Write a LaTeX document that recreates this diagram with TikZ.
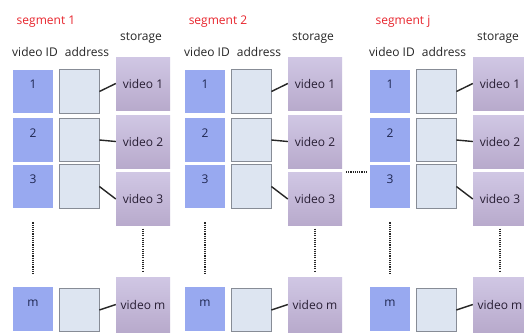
\documentclass[tikz,border=0pt]{standalone}
\usepackage{fontspec}
\setmainfont{Open Sans}
\definecolor{idblue}{RGB}{152,169,240}
\definecolor{idtext}{RGB}{30,38,80}
\definecolor{addrfill}{RGB}{221,229,241}
\definecolor{addrdraw}{RGB}{135,140,150}
\definecolor{stTop}{RGB}{208,199,228}
\definecolor{stMid}{RGB}{200,190,222}
\definecolor{stBot}{RGB}{184,170,204}
\definecolor{sttext}{RGB}{40,30,52}
\definecolor{segred}{RGB}{232,36,44}
\begin{document}
\begin{tikzpicture}[x=1pt,y=-1pt,
  idbox/.style={fill=idblue, minimum width=40pt, minimum height=43.5pt, inner sep=0pt,
    text=idtext, text height=6pt, text depth=12pt, font=\fontsize{12}{14}\selectfont},
  addrbox/.style={fill=addrfill, draw=addrdraw, line width=0.8pt, minimum width=40pt,
    minimum height=43.5pt, inner sep=0pt},
  storebox/.style={top color=stTop, middle color=stMid, bottom color=stBot,
    minimum width=54pt, minimum height=53pt, inner sep=0pt, text=sttext,
    font=\fontsize{12}{14}\selectfont},
  link/.style={line width=1.4pt, black!85},
  dots/.style={line width=1.8pt, dash pattern=on 1.1pt off 1.1pt, black!85},
  seglabel/.style={text=segred, font=\fontsize{12}{14}\selectfont},
  hdr/.style={text=black!85, font=\fontsize{12}{14}\selectfont}]
\useasboundingbox[fill=white] (0,0) rectangle (524,333);
\foreach \s/\dx/\lab in {a/0/1, b/172/2, c/357/j} {
  \node[seglabel] (seg\s) at (46+\dx,22) {segment \lab};
  \node[hdr] (sto\s) at (141+\dx,38) {storage};
  \node[hdr] (vid\s) at (35+\dx,52) {video ID};
  \node[hdr] (adr\s) at (87+\dx,52) {address};
  % rows
  \node[idbox] (i1\s) at (33+\dx,91.5) {1};
  \node[idbox] (i2\s) at (33+\dx,140) {2};
  \node[idbox] (i3\s) at (33+\dx,186.5) {3};
  \node[idbox] (im\s) at (33+\dx,309) {m};
  \node[addrbox] (a1\s) at (79+\dx,91.5) {};
  \node[addrbox] (a2\s) at (79+\dx,140) {};
  \node[addrbox] (a3\s) at (79+\dx,186.5) {};
  \node[addrbox] (am\s) at (79+\dx,310) {};
  \node[storebox] (s1\s) at (143+\dx,83.5) {video 1};
  \node[storebox] (s2\s) at (143+\dx,141.5) {video 2};
  \node[storebox] (s3\s) at (143+\dx,199) {video 3};
  \node[storebox, minimum height=55pt] (sm\s) at (143+\dx,304.5) {video m};
  \draw[link] (a1\s.east) -- (s1\s.west);
  \draw[link] (a2\s.east) -- (s2\s.west);
  \draw[link] (a3\s.east) -- (s3\s.west);
  \draw[link] (am\s.east) -- (sm\s.west);
  \draw[dots, shorten <=14pt, shorten >=12pt] (i3\s.south) -- (im\s.north);
  \draw[dots, shorten <=3pt, shorten >=5pt] (s3\s.south) -- (sm\s.north);
}
\coordinate (hd1) at (346,172);
\coordinate (hd2) at (367,172);
\draw[dots, line width=1.5pt] (hd1) -- (hd2);
\end{tikzpicture}
\end{document}
